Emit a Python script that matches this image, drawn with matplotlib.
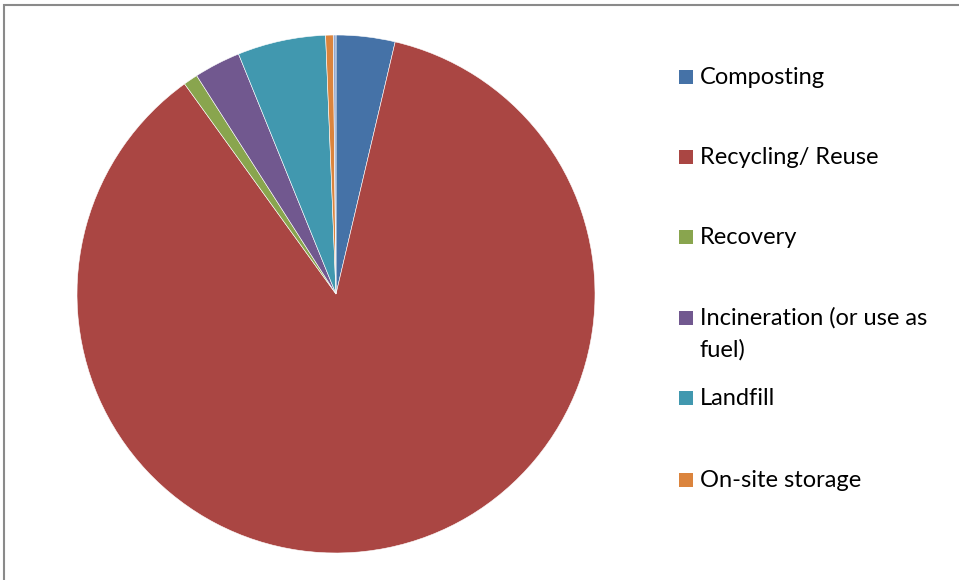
import matplotlib.pyplot as plt
from matplotlib.patches import Rectangle

labels = ['Composting', 'Recycling/ Reuse', 'Recovery',
          'Incineration (or use as\nfuel)', 'Landfill', 'On-site storage', '']
shares = [3.67, 86.4, 0.9, 2.9, 5.5, 0.47, 0.17]
colors = ['#4572A7', '#AA4643', '#89A54E', '#71588F', '#4198AF', '#DB843D', '#93A9CF']

W, H = 959, 580
fig = plt.figure(figsize=(W / 100, H / 100), dpi=100)

# pie: centre (336, 294) px, radius 259 px
cx, cy, r = 336, 294, 259
ax = fig.add_axes([(cx - r) / W, (H - cy - r) / H, 2 * r / W, 2 * r / H])
ax.pie(shares, colors=colors, startangle=90, counterclock=False, radius=1,
       wedgeprops=dict(linewidth=0.4, edgecolor='white'))
ax.set_xlim(-1, 1)
ax.set_ylim(-1, 1)
ax.axis('off')

# legend drawn by hand (only first six entries shown)
ys = [77, 157, 237, 318, 398, 480]
for lab, col, y in zip(labels[:6], colors[:6], ys):
    fig.add_artist(Rectangle((679 / W, (H - y - 7) / H), 14 / W, 14 / H,
                             transform=fig.transFigure, facecolor=col, edgecolor='none'))
    for i, line in enumerate(lab.split('\n')):
        fig.text(700 / W, (H - y - 7 - 32 * i) / H, line, fontsize=17, family='Lato',
                 color='black', va='baseline', ha='left')

# chart frame
fig.add_artist(Rectangle((4 / W, -0.1), 1.2, (H - 5) / H + 0.1, transform=fig.transFigure,
                         fill=False, edgecolor='#8a8a8a', linewidth=1.5))

fig.savefig('out.png', dpi=100)
